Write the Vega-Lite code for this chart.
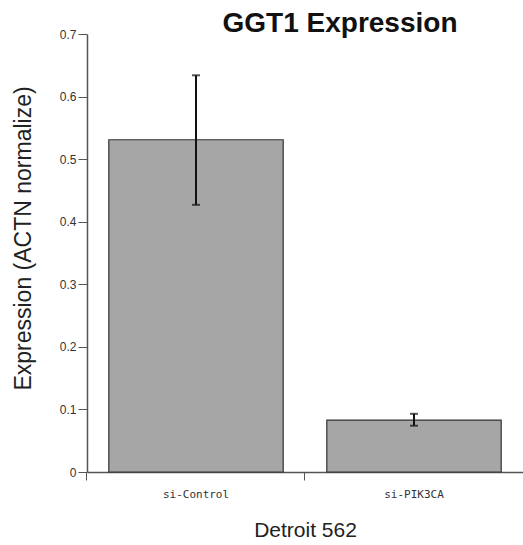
{
  "$schema": "https://vega.github.io/schema/vega-lite/v6.json",
  "autosize": "none",
  "width": 436,
  "height": 438,
  "padding": {"left": 87, "top": 34, "right": 0, "bottom": 73},
  "background": "white",
  "title": {
    "text": "GGT1 Expression",
    "font": "Liberation Sans",
    "fontSize": 28,
    "fontWeight": "bold",
    "color": "#111",
    "anchor": "middle",
    "dx": 35,
    "dy": 12,
    "offset": 2
  },
  "data": {
    "values": [
      {"group": "si-Control", "value": 0.531, "lo": 0.427, "hi": 0.634},
      {"group": "si-PIK3CA", "value": 0.083, "lo": 0.074, "hi": 0.093}
    ]
  },
  "config": {
    "view": {"stroke": null},
    "axis": {"domainColor": "#555", "tickColor": "#555", "grid": false}
  },
  "layer": [
    {
      "mark": {"type": "bar", "fill": "#a6a6a6", "stroke": "#333", "strokeWidth": 1.2},
      "encoding": {
        "x": {
          "field": "group", "type": "nominal", "sort": null,
          "scale": {"paddingInner": 0.2, "paddingOuter": 0.1},
          "axis": {
            "title": "Detroit 562", "titleFont": "Liberation Sans", "titleFontSize": 21, "titleFontWeight": "normal", "titleColor": "#222", "titlePadding": 20,
            "labelAngle": 0, "labelFont": "DejaVu Sans Mono", "labelFontSize": 11, "labelColor": "#333", "labelPadding": 8,
            "bandPosition": -0.125, "tickSize": 8, "domainWidth": 1.5
          }
        },
        "y": {
          "field": "value", "type": "quantitative",
          "scale": {"domain": [0, 0.7]},
          "axis": {
            "title": "Expression (ACTN normalize)", "titleFont": "Liberation Sans", "titleFontSize": 23, "titleFontWeight": "normal", "titleColor": "#222", "titlePadding": 24, "titleY": 204,
            "values": [0, 0.1, 0.2, 0.3, 0.4, 0.5, 0.6, 0.7],
            "format": "~g",
            "labelFont": "Liberation Sans", "labelFontSize": 12, "labelColor": "#333", "labelPadding": 2,
            "tickSize": 9, "domainWidth": 1.5
          }
        }
      }
    },
    {
      "mark": {"type": "rule", "color": "#111", "strokeWidth": 2},
      "encoding": {
        "x": {"field": "group", "type": "nominal", "sort": null},
        "y": {"field": "lo", "type": "quantitative"},
        "y2": {"field": "hi"}
      }
    },
    {
      "mark": {"type": "tick", "color": "#111", "thickness": 2, "size": 8},
      "encoding": {
        "x": {"field": "group", "type": "nominal", "sort": null},
        "y": {"field": "lo", "type": "quantitative"}
      }
    },
    {
      "mark": {"type": "tick", "color": "#111", "thickness": 2, "size": 8},
      "encoding": {
        "x": {"field": "group", "type": "nominal", "sort": null},
        "y": {"field": "hi", "type": "quantitative"}
      }
    }
  ]
}
